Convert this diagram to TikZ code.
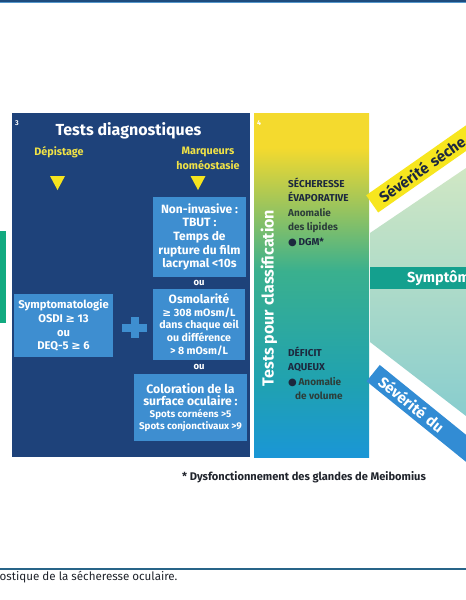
\documentclass[tikz,border=0pt]{standalone}
\usepackage{fontspec}
\setmainfont{Fira Sans}
\newfontfamily\symfont{DejaVu Sans}
\usepackage{xcolor}
\usepackage{tikz}
\usetikzlibrary{positioning}
\definecolor{panelnavy}{RGB}{30,66,122}
\definecolor{boxblue}  {RGB}{62,142,208}
\definecolor{markyell} {RGB}{246,228,30}
\definecolor{labyell}  {RGB}{240,226,70}
\definecolor{clsyellow}{RGB}{244,218,46}
\definecolor{clslime}  {RGB}{172,200,84}
\definecolor{clsteal}  {RGB}{58,176,142}
\definecolor{clsaqua}  {RGB}{32,162,176}
\definecolor{clsblue}  {RGB}{26,150,214}
\definecolor{clsink}   {RGB}{28,40,62}
\definecolor{clsink2}  {RGB}{44,62,58}
\definecolor{wedgetop} {RGB}{208,231,196}
\definecolor{wedgemid} {RGB}{172,220,200}
\definecolor{wedgebot} {RGB}{136,205,206}
\definecolor{symteal}  {RGB}{20,160,142}
\definecolor{sevyell}  {RGB}{247,230,30}
\definecolor{sevblue}  {RGB}{50,140,212}
\definecolor{inkdark}  {RGB}{32,36,44}
\definecolor{rulenavy} {RGB}{30,75,125}
\definecolor{ruleblue} {RGB}{85,152,205}
\definecolor{rulebot}  {RGB}{40,100,136}
\pgfdeclareverticalshading{clsshade}{100bp}{color(0bp)=(clsblue); color(25bp)=(clsblue);
  color(36bp)=(clsaqua); color(52bp)=(clsteal); color(63bp)=(clslime);
  color(70bp)=(clsyellow); color(100bp)=(clsyellow)}
\newcommand{\geqs}{{\symfont ≥}}
\newcommand{\dotb}{{\symfont ●}}
\tikzset{
  % Light blue box inside panel 3
  lbox/.style={rectangle, fill=boxblue, text=white, align=center, inner sep=0pt,
               font=\bfseries\fontsize{11.2}{13.7}\selectfont},
  % Small white "ou"
  ortext/.style={text=white, font=\bfseries\fontsize{9.5}{10}\selectfont, inner sep=0pt},
  % Yellow heading in panel 3
  yhead/.style={text=labyell, align=center, inner sep=0pt,
                font=\bfseries\fontsize{10.8}{15.5}\selectfont},
  % Panel numbers
  pnum/.style={text=white, font=\bfseries\fontsize{7}{8}\selectfont, inner sep=0pt},
  % Classification texts
  clstext/.style={align=left, anchor=west, inner sep=0pt,
                  font=\bfseries\fontsize{10}{14.5}\selectfont},
  % Slanted severity bands
  sevband/.style={rectangle, anchor=west, minimum height=21pt, text width=170pt,
                  align=left, inner xsep=10pt, inner ysep=0pt,
                  font=\bfseries\fontsize{15}{16}\selectfont},
}
\begin{document}
\begin{tikzpicture}[x=1pt,y=-1pt]

    \clip (0,0) rectangle (466,600);
    \fill[white] (0,0) rectangle (466,600);

    %% ── Rules ──────────────────────────────────────────────
    \fill[rulenavy] (0,0.4) rectangle (466,2);
    \fill[ruleblue] (0,2) rectangle (466,3.4);
    \fill[rulebot]  (0,567.6) rectangle (466,569.6);

    %% ── Left stub ──────────────────────────────────────────
    \fill[symteal!90!green] (-1,231) rectangle (6,323);

    %% ── Panel 3 : diagnostic tests ─────────────────────────
    \fill[panelnavy] (12,113) rectangle (250,457);
    \node[pnum] (num3) at (17,123) {3};
    \node[text=white,font=\bfseries\fontsize{16}{17}\selectfont,inner sep=0pt]
         (diagtitle) at (128.5,131) {Tests diagnostiques};
    \node[yhead] (depist) at (59,152) {Dépistage};
    \node[yhead] (marqueurs) at (208,158.5) {Marqueurs\\homéostasie};

    \fill[markyell] (50,176) -- (65,176) -- (57.5,190) -- cycle;
    \fill[markyell] (190.5,176) -- (205.5,176) -- (198,190) -- cycle;

    %% Screening
    \node[lbox,minimum width=99pt,minimum height=63pt] (symptbox) at (63.5,325.5)
         {Symptomatologie\\OSDI \geqs{} 13\\ou\\DEQ-5 \geqs{} 6};

    %% Plus sign
    \fill[boxblue] (122,323.5) rectangle (147,331.5);
    \fill[boxblue] (130.5,317) rectangle (138.5,338);

    %% Markers
    \node[lbox,minimum width=93pt,minimum height=80pt,
          font=\bfseries\fontsize{12}{13.7}\selectfont] (tbutbox) at (199.5,237)
         {Non-invasive :\\TBUT :\\Temps de\\rupture du film\\lacrymal <10s};
    \node[ortext] (ou1) at (199,283) {ou};
    \node[lbox,minimum width=92pt,minimum height=71pt,
          font=\bfseries\fontsize{10.6}{12.8}\selectfont] (osmobox) at (199,324.5)
         {{\fontsize{12}{13}\selectfont Osmolarité}\\\geqs{} 308 mOsm/L\\dans chaque œil\\ou différence\\> 8 mOsm/L};
    \node[ortext] (ou2) at (199,367) {ou};
    \node[lbox,minimum width=113pt,minimum height=67pt,
          font=\bfseries\fontsize{9.8}{12}\selectfont] (colorbox) at (190.5,407.5)
         {{\fontsize{12.2}{15}\selectfont Coloration de la}\\{\fontsize{12.2}{15}\selectfont surface oculaire :}\\Spots cornéens >5\\Spots conjonctivaux >9};

    %% ── Panel 4 : classification ───────────────────────────
    \shade[shading=clsshade] (254,113) rectangle (369,457);
    \node[pnum] (num4) at (259,123) {4};
    \node[text=white,rotate=90,inner sep=0pt,font=\bfseries\fontsize{16}{17}\selectfont]
         (classtitle) at (269,298) {Tests pour classification};
    \node[clstext,text=clsink] (evapo) at (288,212)
         {SÉCHERESSE\\ÉVAPORATIVE\\{\color{clsink2}Anomalie}\\{\color{clsink2}des lipides}\\\dotb\,DGM*};
    \node[clstext,text=clsink] (aqueux) at (288,373.5)
         {DÉFICIT\\AQUEUX\\\dotb\,{\color{clsink2}Anomalie}\\\hspace*{7pt}{\color{clsink2}de volume}};

    %% ── Severity wedge ─────────────────────────────────────
    \shade[top color=wedgetop,middle color=wedgemid,bottom color=wedgebot]
         (370,233) -- (466,168) -- (466,416) -- (370,342) -- cycle;
    \fill[symteal] (370,267) rectangle (466,289);
    \node[text=white,anchor=west,inner sep=0pt,font=\bfseries\fontsize{14.5}{15}\selectfont]
         (symptband) at (407,278) {Symptôm};
    \node[sevband,fill=sevyell,text=clsink,rotate=35] (sevtop) at (372,204) {Sévérité séche};
    \node[sevband,fill=sevblue,text=white,rotate=-39] (sevbot) at (373,373) {Sévérité du};

    %% ── Notes ──────────────────────────────────────────────
    \node[anchor=west,inner sep=0pt,text=inkdark,font=\bfseries\fontsize{11.1}{12}\selectfont]
         (footnote) at (182,477) {* Dysfonctionnement des glandes de Meibomius};
    \node[anchor=west,inner sep=0pt,text=inkdark,font=\fontsize{11.6}{12}\selectfont]
         (caption) at (-0.5,577) {ostique de la sécheresse oculaire.};

\end{tikzpicture}
\end{document}
